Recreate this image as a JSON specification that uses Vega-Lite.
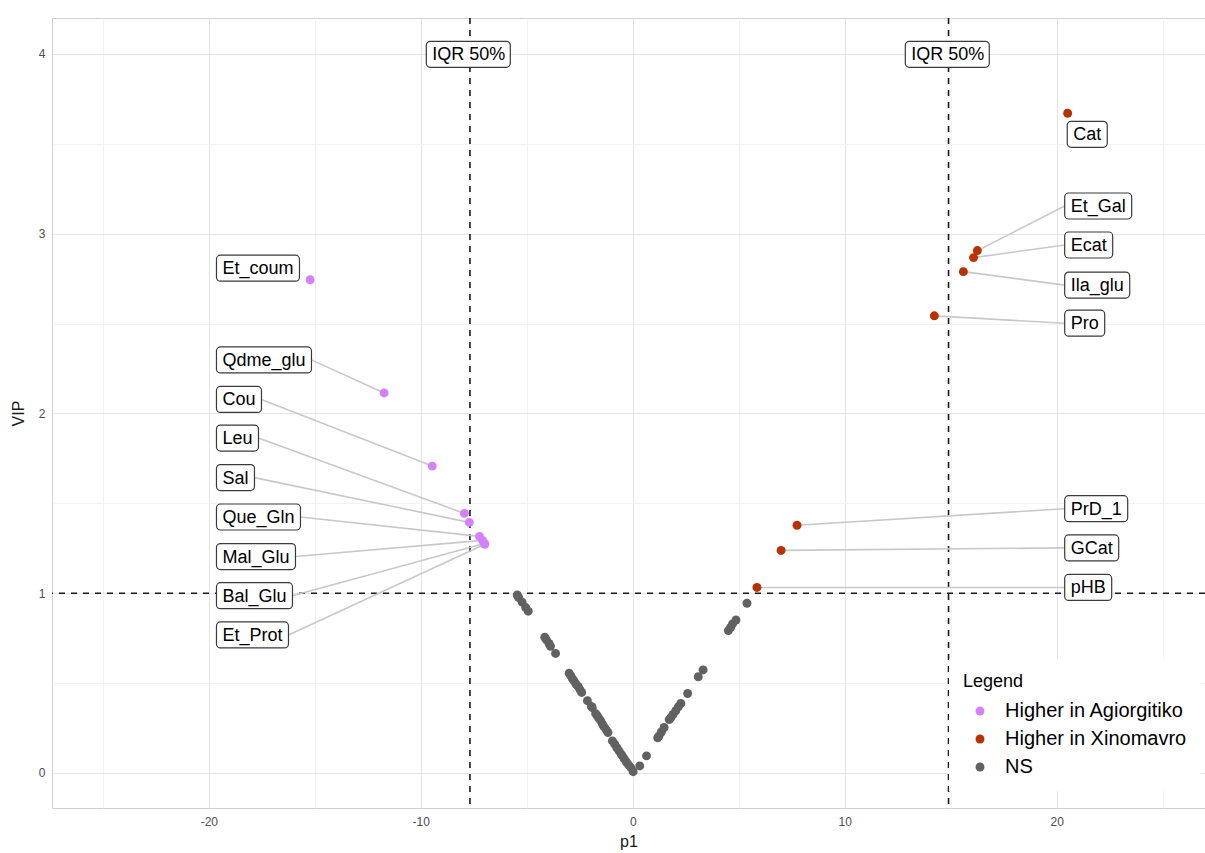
{
  "$schema": "https://vega.github.io/schema/vega-lite/v6.json",
  "width": 1153,
  "height": 790,
  "autosize": "none",
  "padding": {"left": 52, "top": 18, "right": 0, "bottom": 45},
  "background": "white",
  "config": {
    "view": {"stroke": "#cfcfcf", "strokeWidth": 1},
    "font": "Liberation Sans",
    "axis": {
      "domain": false,
      "ticks": false,
      "labelColor": "#4d4d4d",
      "labelFontSize": 12,
      "labelFont": "Liberation Sans",
      "titleFont": "Liberation Sans",
      "titleFontSize": 16,
      "titleFontWeight": "normal",
      "titleColor": "#1a1a1a"
    }
  },
  "datasets": {
    "points": [
      {"name": "Et_coum", "p1": -15.22, "VIP": 2.744, "group": "Higher in Agiorgitiko"},
      {"name": "Qdme_glu", "p1": -11.73, "VIP": 2.114, "group": "Higher in Agiorgitiko"},
      {"name": "Cou", "p1": -9.46, "VIP": 1.707, "group": "Higher in Agiorgitiko"},
      {"name": "Leu", "p1": -7.94, "VIP": 1.444, "group": "Higher in Agiorgitiko"},
      {"name": "Sal", "p1": -7.71, "VIP": 1.394, "group": "Higher in Agiorgitiko"},
      {"name": "Que_Gln", "p1": -7.23, "VIP": 1.316, "group": "Higher in Agiorgitiko"},
      {"name": "Mal_Glu", "p1": -7.09, "VIP": 1.294, "group": "Higher in Agiorgitiko"},
      {"name": "Bal_Glu", "p1": -7.0, "VIP": 1.277, "group": "Higher in Agiorgitiko"},
      {"name": "Et_Prot", "p1": -6.98, "VIP": 1.272, "group": "Higher in Agiorgitiko"},
      {"name": "Cat", "p1": 20.52, "VIP": 3.67, "group": "Higher in Xinomavro"},
      {"name": "Et_Gal", "p1": 16.26, "VIP": 2.906, "group": "Higher in Xinomavro"},
      {"name": "Ecat", "p1": 16.08, "VIP": 2.867, "group": "Higher in Xinomavro"},
      {"name": "Ila_glu", "p1": 15.6, "VIP": 2.789, "group": "Higher in Xinomavro"},
      {"name": "Pro", "p1": 14.23, "VIP": 2.543, "group": "Higher in Xinomavro"},
      {"name": "PrD_1", "p1": 7.75, "VIP": 1.378, "group": "Higher in Xinomavro"},
      {"name": "GCat", "p1": 7.0, "VIP": 1.238, "group": "Higher in Xinomavro"},
      {"name": "pHB", "p1": 5.86, "VIP": 1.032, "group": "Higher in Xinomavro"},
      {"name": "", "p1": -5.45, "VIP": 0.99, "group": "NS"},
      {"name": "", "p1": -5.38, "VIP": 0.975, "group": "NS"},
      {"name": "", "p1": -5.22, "VIP": 0.95, "group": "NS"},
      {"name": "", "p1": -5.05, "VIP": 0.92, "group": "NS"},
      {"name": "", "p1": -4.93, "VIP": 0.9, "group": "NS"},
      {"name": "", "p1": -4.15, "VIP": 0.755, "group": "NS"},
      {"name": "", "p1": -4.07, "VIP": 0.74, "group": "NS"},
      {"name": "", "p1": -3.95, "VIP": 0.72, "group": "NS"},
      {"name": "", "p1": -3.88, "VIP": 0.705, "group": "NS"},
      {"name": "", "p1": -3.64, "VIP": 0.665, "group": "NS"},
      {"name": "", "p1": -3.0, "VIP": 0.555, "group": "NS"},
      {"name": "", "p1": -2.92, "VIP": 0.54, "group": "NS"},
      {"name": "", "p1": -2.85, "VIP": 0.525, "group": "NS"},
      {"name": "", "p1": -2.77, "VIP": 0.512, "group": "NS"},
      {"name": "", "p1": -2.68, "VIP": 0.495, "group": "NS"},
      {"name": "", "p1": -2.57, "VIP": 0.48, "group": "NS"},
      {"name": "", "p1": -2.48, "VIP": 0.462, "group": "NS"},
      {"name": "", "p1": -2.41, "VIP": 0.448, "group": "NS"},
      {"name": "", "p1": -2.14, "VIP": 0.402, "group": "NS"},
      {"name": "", "p1": -1.95, "VIP": 0.37, "group": "NS"},
      {"name": "", "p1": -1.91, "VIP": 0.363, "group": "NS"},
      {"name": "", "p1": -1.75, "VIP": 0.33, "group": "NS"},
      {"name": "", "p1": -1.67, "VIP": 0.318, "group": "NS"},
      {"name": "", "p1": -1.6, "VIP": 0.305, "group": "NS"},
      {"name": "", "p1": -1.51, "VIP": 0.29, "group": "NS"},
      {"name": "", "p1": -1.43, "VIP": 0.272, "group": "NS"},
      {"name": "", "p1": -1.36, "VIP": 0.258, "group": "NS"},
      {"name": "", "p1": -1.25, "VIP": 0.24, "group": "NS"},
      {"name": "", "p1": -1.17, "VIP": 0.225, "group": "NS"},
      {"name": "", "p1": -0.96, "VIP": 0.178, "group": "NS"},
      {"name": "", "p1": -0.85, "VIP": 0.16, "group": "NS"},
      {"name": "", "p1": -0.75, "VIP": 0.14, "group": "NS"},
      {"name": "", "p1": -0.65, "VIP": 0.123, "group": "NS"},
      {"name": "", "p1": -0.55, "VIP": 0.105, "group": "NS"},
      {"name": "", "p1": -0.49, "VIP": 0.095, "group": "NS"},
      {"name": "", "p1": -0.4, "VIP": 0.078, "group": "NS"},
      {"name": "", "p1": -0.3, "VIP": 0.061, "group": "NS"},
      {"name": "", "p1": -0.2, "VIP": 0.045, "group": "NS"},
      {"name": "", "p1": -0.09, "VIP": 0.03, "group": "NS"},
      {"name": "", "p1": 0.02, "VIP": 0.007, "group": "NS"},
      {"name": "", "p1": 0.33, "VIP": 0.039, "group": "NS"},
      {"name": "", "p1": 0.65, "VIP": 0.095, "group": "NS"},
      {"name": "", "p1": 1.18, "VIP": 0.196, "group": "NS"},
      {"name": "", "p1": 1.24, "VIP": 0.206, "group": "NS"},
      {"name": "", "p1": 1.35, "VIP": 0.228, "group": "NS"},
      {"name": "", "p1": 1.48, "VIP": 0.253, "group": "NS"},
      {"name": "", "p1": 1.72, "VIP": 0.297, "group": "NS"},
      {"name": "", "p1": 1.8, "VIP": 0.308, "group": "NS"},
      {"name": "", "p1": 1.9, "VIP": 0.325, "group": "NS"},
      {"name": "", "p1": 2.03, "VIP": 0.346, "group": "NS"},
      {"name": "", "p1": 2.15, "VIP": 0.368, "group": "NS"},
      {"name": "", "p1": 2.27, "VIP": 0.387, "group": "NS"},
      {"name": "", "p1": 2.59, "VIP": 0.442, "group": "NS"},
      {"name": "", "p1": 3.09, "VIP": 0.535, "group": "NS"},
      {"name": "", "p1": 3.32, "VIP": 0.573, "group": "NS"},
      {"name": "", "p1": 4.51, "VIP": 0.792, "group": "NS"},
      {"name": "", "p1": 4.62, "VIP": 0.81, "group": "NS"},
      {"name": "", "p1": 4.71, "VIP": 0.829, "group": "NS"},
      {"name": "", "p1": 4.87, "VIP": 0.851, "group": "NS"},
      {"name": "", "p1": 5.39, "VIP": 0.944, "group": "NS"}
    ],
    "labels": [
      {"label": "Et_coum", "lx": -19.64, "ly": 2.808, "p1": -15.22, "VIP": 2.744},
      {"label": "Qdme_glu", "lx": -19.64, "ly": 2.298, "p1": -11.73, "VIP": 2.114},
      {"label": "Cou", "lx": -19.64, "ly": 2.078, "p1": -9.46, "VIP": 1.707},
      {"label": "Leu", "lx": -19.64, "ly": 1.863, "p1": -7.94, "VIP": 1.444},
      {"label": "Sal", "lx": -19.64, "ly": 1.643, "p1": -7.71, "VIP": 1.394},
      {"label": "Que_Gln", "lx": -19.64, "ly": 1.424, "p1": -7.23, "VIP": 1.316},
      {"label": "Mal_Glu", "lx": -19.64, "ly": 1.204, "p1": -7.09, "VIP": 1.294},
      {"label": "Bal_Glu", "lx": -19.64, "ly": 0.986, "p1": -7.0, "VIP": 1.277},
      {"label": "Et_Prot", "lx": -19.64, "ly": 0.768, "p1": -6.98, "VIP": 1.272},
      {"label": "Cat", "lx": 20.5, "ly": 3.553, "p1": 20.52, "VIP": 3.67},
      {"label": "Et_Gal", "lx": 20.38, "ly": 3.154, "p1": 16.26, "VIP": 2.906},
      {"label": "Ecat", "lx": 20.38, "ly": 2.937, "p1": 16.08, "VIP": 2.867},
      {"label": "Ila_glu", "lx": 20.38, "ly": 2.714, "p1": 15.6, "VIP": 2.789},
      {"label": "Pro", "lx": 20.38, "ly": 2.502, "p1": 14.23, "VIP": 2.543},
      {"label": "PrD_1", "lx": 20.38, "ly": 1.47, "p1": 7.75, "VIP": 1.378},
      {"label": "GCat", "lx": 20.38, "ly": 1.252, "p1": 7.0, "VIP": 1.238},
      {"label": "pHB", "lx": 20.38, "ly": 1.032, "p1": 5.86, "VIP": 1.032},
      {"label": "IQR 50%", "lx": -9.74, "ly": 3.998},
      {"label": "IQR 50%", "lx": 12.86, "ly": 3.998}
    ],
    "vlines": [{"p1": -7.68}, {"p1": 14.9}],
    "hlines": [{"VIP": 1}]
  },
  "layer": [
    {
      "data": {"name": "vlines"},
      "mark": {"type": "rule", "color": "#1a1a1a", "strokeWidth": 1.6, "strokeDash": [6, 6]},
      "encoding": {
        "x": {
          "field": "p1", "type": "quantitative",
          "scale": {"domain": [-27.4, 27.0], "nice": false, "zero": false},
          "axis": {
            "title": "p1",
            "values": [-25, -20, -15, -10, -5, 0, 5, 10, 15, 20, 25],
            "labelExpr": "datum.value % 10 === 0 ? toString(datum.value) : ''",
            "grid": true,
            "gridColor": {"condition": {"test": "datum.value % 10 !== 0", "value": "#f2f2f2"}, "value": "#e4e4e4"},
            "labelPadding": 8,
            "titlePadding": 6
          }
        }
      }
    },
    {
      "data": {"name": "hlines"},
      "mark": {"type": "rule", "color": "#1a1a1a", "strokeWidth": 1.6, "strokeDash": [6, 6]},
      "encoding": {
        "y": {
          "field": "VIP", "type": "quantitative",
          "scale": {"domain": [-0.195, 4.2], "nice": false, "zero": false},
          "axis": {
            "title": "VIP",
            "values": [0, 0.5, 1, 1.5, 2, 2.5, 3, 3.5, 4],
            "labelExpr": "datum.value % 1 === 0 ? toString(datum.value) : ''",
            "grid": true,
            "gridColor": {"condition": {"test": "datum.value % 1 !== 0", "value": "#f2f2f2"}, "value": "#e4e4e4"},
            "labelPadding": 7,
            "titlePadding": 12
          }
        }
      }
    },
    {
      "data": {"name": "labels"},
      "transform": [{"filter": "isValid(datum.p1) && datum.label !== 'Et_coum' && datum.label !== 'Cat'"}],
      "mark": {
        "type": "rule", "color": "#c8c8c8", "strokeWidth": 1.6,
        "x2Offset": {"expr": "datum.lx < datum.p1 ? (12 + 10*length(datum.label) + 5*length(replace(datum.label, regexp('[^mMW%]','g'), '')) + 4*length(replace(datum.label, regexp('[^QGO]','g'), '')) + 3*length(replace(datum.label, regexp('[^CDHRNU]','g'), '')) + 2*length(replace(datum.label, regexp('[^EPSBAKVXY]','g'), '')) - 6*length(replace(datum.label, regexp('[^ilj]','g'), '')) - 5*length(replace(datum.label, regexp('[^tIf ]','g'), '')) - 4*length(replace(datum.label, regexp('[^r]','g'), '')) - 1*length(replace(datum.label, regexp('[^cks]','g'), ''))) : 0"}
      },
      "encoding": {
        "x": {"field": "p1", "type": "quantitative"},
        "y": {"field": "VIP", "type": "quantitative"},
        "x2": {"field": "lx"},
        "y2": {"field": "ly"}
      }
    },
    {
      "data": {"name": "points"},
      "mark": {"type": "circle", "size": 80, "opacity": 1},
      "encoding": {
        "x": {"field": "p1", "type": "quantitative"},
        "y": {"field": "VIP", "type": "quantitative"},
        "color": {
          "field": "group", "type": "nominal",
          "scale": {"domain": ["Higher in Agiorgitiko", "Higher in Xinomavro", "NS"], "range": ["#D580FF", "#B83200", "#616161"]},
          "legend": {
            "title": "Legend",
            "orient": "none",
            "legendX": 897,
            "legendY": 641,
            "fillColor": "white",
            "padding": 14,
            "titleFontSize": 18,
            "titleFontWeight": "normal",
            "titleColor": "#000000",
            "titlePadding": 10,
            "labelFontSize": 20,
            "labelColor": "#000000",
            "labelLimit": 400,
            "labelOffset": 15,
            "symbolSize": 80,
            "symbolType": "circle",
            "symbolOffset": 7,
            "rowPadding": 8
          }
        }
      }
    },
    {
      "data": {"name": "labels"},
      "mark": {
        "type": "rect", "fill": "white", "stroke": "#3a3a3a", "strokeWidth": 1.2, "cornerRadius": 4,
        "yOffset": -13, "y2Offset": 13,
        "x2Offset": {"expr": "12 + 10*length(datum.label) + 5*length(replace(datum.label, regexp('[^mMW%]','g'), '')) + 4*length(replace(datum.label, regexp('[^QGO]','g'), '')) + 3*length(replace(datum.label, regexp('[^CDHRNU]','g'), '')) + 2*length(replace(datum.label, regexp('[^EPSBAKVXY]','g'), '')) - 6*length(replace(datum.label, regexp('[^ilj]','g'), '')) - 5*length(replace(datum.label, regexp('[^tIf ]','g'), '')) - 4*length(replace(datum.label, regexp('[^r]','g'), '')) - 1*length(replace(datum.label, regexp('[^cks]','g'), ''))"}
      },
      "encoding": {
        "x": {"field": "lx", "type": "quantitative"},
        "x2": {"field": "lx"},
        "y": {"field": "ly", "type": "quantitative"},
        "y2": {"field": "ly"}
      }
    },
    {
      "data": {"name": "labels"},
      "mark": {"type": "text", "align": "left", "baseline": "middle", "dx": 6, "dy": 1, "fontSize": 18, "font": "Liberation Sans", "color": "#000000"},
      "encoding": {
        "x": {"field": "lx", "type": "quantitative"},
        "y": {"field": "ly", "type": "quantitative"},
        "text": {"field": "label"}
      }
    }
  ]
}
